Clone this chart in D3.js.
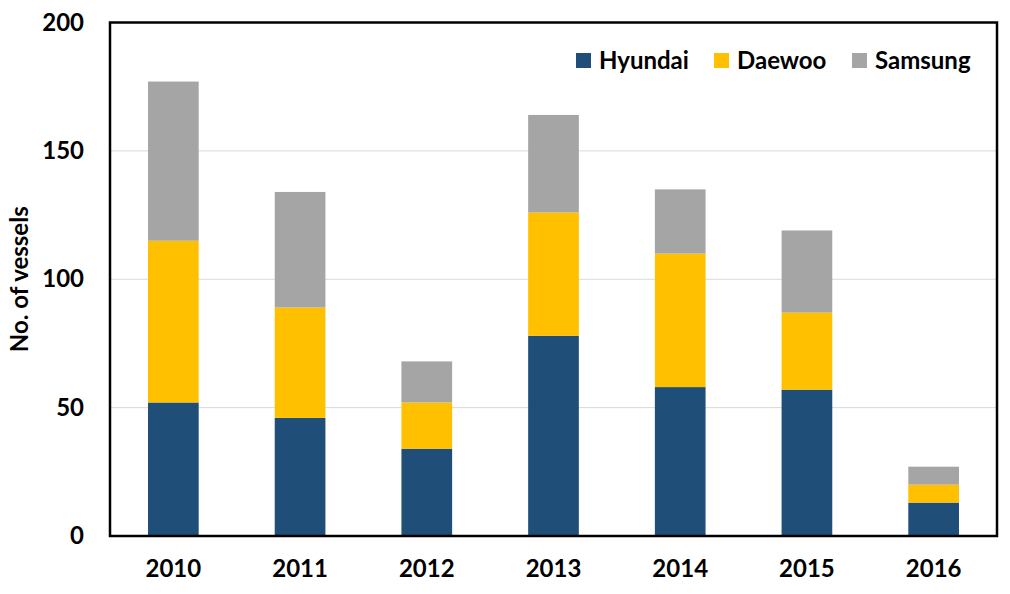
<!DOCTYPE html>
<html><head><meta charset="utf-8">
<script src="https://cdn.jsdelivr.net/npm/d3@7/dist/d3.min.js"></script>
<style>body{margin:0;background:#fff;} svg{display:block;} text{font-family:Lato,"Open Sans",sans-serif;font-weight:bold;fill:#000;}</style>
</head><body>
<svg id="c" width="1010" height="594"></svg>
<script>
const years = ["2010","2011","2012","2013","2014","2015","2016"];
const hyundai = [52,46,34,78,58,57,13];
const daewoo = [63,43,18,48,52,30,7];
const samsung = [62,45,16,38,25,32,7];
const seriesNames = ["Hyundai","Daewoo","Samsung"];
const colors = ["#1F4E79","#FFC000","#A5A5A5"];
const yTicks = [0,50,100,150,200];

const rows = years.map((y,i)=>({year:y, Hyundai:hyundai[i], Daewoo:daewoo[i], Samsung:samsung[i]}));
const stacked = d3.stack().keys(seriesNames)(rows);

const svg = d3.select("#c");
const m = {l:110, r:997, t:22.5, b:536};
const x = d3.scaleBand().domain(years).range([m.l,m.r]).paddingInner(0.6).paddingOuter(0.3);
const y = d3.scaleLinear().domain([0,200]).range([m.b,m.t]);

// gridlines
svg.append("g").selectAll("line").data(yTicks.filter(t=>t>0&&t<200)).join("line")
  .attr("x1",m.l).attr("x2",m.r).attr("y1",d=>y(d)).attr("y2",d=>y(d))
  .attr("stroke","#d9d9d9").attr("stroke-width",1);

// bars
svg.append("g").selectAll("g").data(stacked).join("g")
  .attr("fill",(d,i)=>colors[i])
  .selectAll("rect").data(d=>d).join("rect")
  .attr("x",d=>x(d.data.year)).attr("width",x.bandwidth())
  .attr("y",d=>y(d[1])).attr("height",d=>y(d[0])-y(d[1]));

// frame
svg.append("rect").attr("x",m.l).attr("y",m.t).attr("width",m.r-m.l).attr("height",m.b-m.t)
  .attr("fill","none").attr("stroke","#000").attr("stroke-width",2.5);

// y axis
const yAxis = d3.axisLeft(y).tickValues(yTicks).tickSize(0).tickPadding(26);
const ya = svg.append("g").attr("transform",`translate(${m.l},0)`).call(yAxis);
ya.select(".domain").remove();
ya.selectAll("text").style("font-size","24px").style("font-family","Lato").style("font-weight","bold").attr("fill","#000");

// x axis
const xAxis = d3.axisBottom(x).tickSize(0).tickPadding(24);
const xa = svg.append("g").attr("transform",`translate(0,${m.b})`).call(xAxis);
xa.select(".domain").remove();
xa.selectAll("text").style("font-size","24px").style("font-family","Lato").style("font-weight","bold").attr("fill","#000");

// y title
svg.append("text").attr("transform",`translate(28,${(m.t+m.b)/2}) rotate(-90)`)
  .attr("text-anchor","middle").style("font-size","24px").text("No. of vessels");

// legend
const legX = [576,714,852];
const lg = svg.append("g");
seriesNames.forEach((s,i)=>{
  lg.append("rect").attr("x",legX[i]).attr("y",53).attr("width",15).attr("height",15).attr("fill",colors[i]);
  lg.append("text").attr("x",legX[i]+23).attr("y",69).style("font-size","24px").text(s);
});
</script>
</body></html>
